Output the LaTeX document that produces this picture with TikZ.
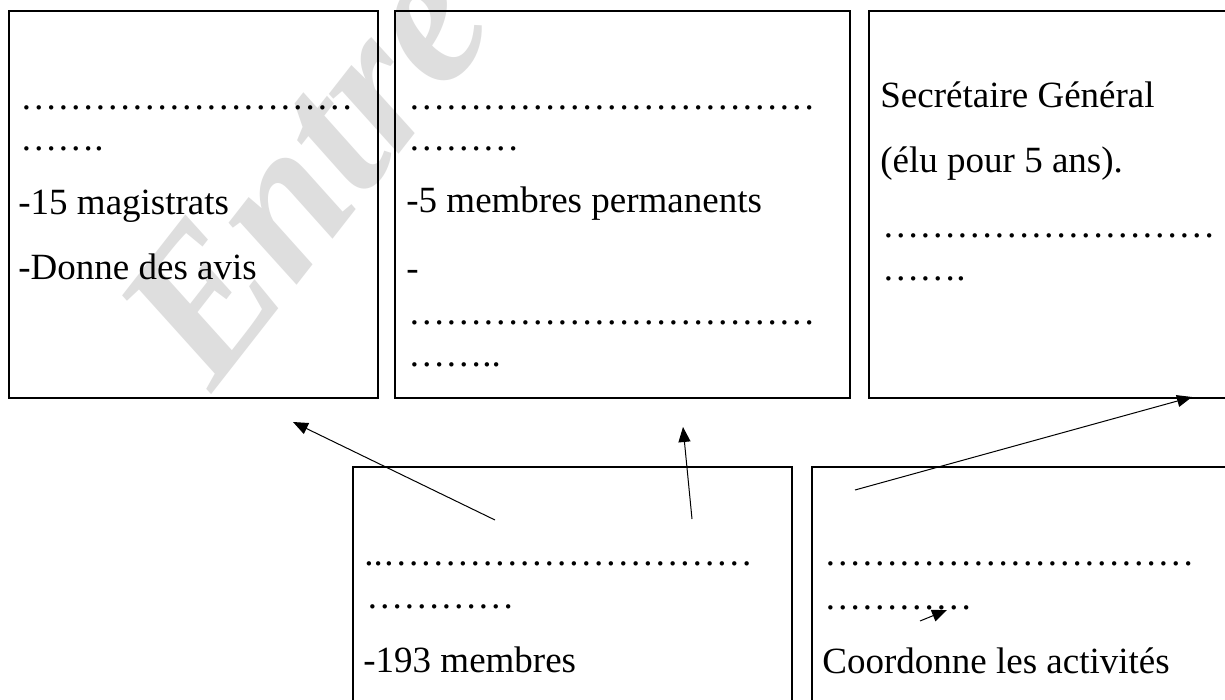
\documentclass[tikz,border=0pt]{standalone}
\usepackage{fontspec}
\setmainfont{Liberation Serif}
\usetikzlibrary{arrows.meta}

\newcommand{\pt}{…}

\tikzset{
  boite/.style={draw, line width=1pt, rectangle, anchor=north west, inner sep=0pt, outer sep=0pt},
  ligne/.style={anchor=base west, inner sep=0pt, font=\fontsize{18.5}{21}\selectfont},
  fleche/.style={-{Triangle[length=7.5pt,width=6pt]}, line width=0.5pt},
}

\begin{document}
\begin{tikzpicture}[x=0.5pt,y=-0.5pt]
    \clip (0,0) rectangle (1225,700);
    \fill[white] (0,0) rectangle (1225,700);
    \node[rotate=52, text=black!13, font=\fontsize{100}{100}\selectfont\bfseries\itshape] (filigrane) at (305,170) {Entre};

    % cases du haut
    \node[boite, minimum width=184.5pt, minimum height=193.5pt] (cij) at (9,11) {};
    \node[boite, minimum width=227.5pt, minimum height=193.5pt] (securite) at (395,11) {};
    \node[boite, minimum width=185.5pt, minimum height=193.5pt] (secretariat) at (869,11) {};
    % cases du bas
    \node[boite, minimum width=219.5pt, minimum height=126.5pt] (assemblee) at (353,467) {};
    \node[boite, minimum width=214pt, minimum height=126.5pt] (ecosoc) at (812,467) {};

    \node[ligne] (cijA) at (20,110) {\pt\pt\pt\pt\pt\pt\pt\pt\pt};
    \node[ligne] (cijB) at (20,151) {\pt\pt.};
    \node[ligne] (cijC) at (18,215) {-15 magistrats};
    \node[ligne] (cijD) at (18,279) {-Donne des avis};

    \node[ligne] (secA) at (408,110) {\pt\pt\pt\pt\pt\pt\pt\pt\pt\pt\pt};
    \node[ligne] (secB) at (408,151) {\pt\pt\pt};
    \node[ligne] (secC) at (406,213) {-5 membres permanents};
    \node[ligne] (secD) at (406,280) {-};
    \node[ligne] (secE) at (408,324) {\pt\pt\pt\pt\pt\pt\pt\pt\pt\pt\pt};
    \node[ligne] (secF) at (408,366) {\pt\pt..};

    \node[ligne] (sgA) at (880,108) {Secrétaire Général};
    \node[ligne] (sgB) at (880,173) {(élu pour 5 ans).};
    \node[ligne] (sgC) at (882,237) {\pt\pt\pt\pt\pt\pt\pt\pt\pt};
    \node[ligne] (sgD) at (882,280) {\pt\pt.};

    \node[ligne] (agA) at (364,565) {..\pt\pt\pt\pt\pt\pt\pt\pt\pt\pt};
    \node[ligne] (agB) at (366,608) {\pt\pt\pt\pt};
    \node[ligne] (agC) at (363,672) {-193 membres};

    \node[ligne] (ecoA) at (824,565) {\pt\pt\pt\pt\pt\pt\pt\pt\pt\pt};
    \node[ligne] (ecoB) at (824,609) {\pt\pt\pt\pt};
    \node[ligne] (ecoC) at (822,673) {Coordonne les activités};

    \coordinate (d1) at (495,520);
    \coordinate (f1) at (293,422);
    \coordinate (d2) at (692,519);
    \coordinate (f2) at (683,427);
    \coordinate (d3) at (855,490);
    \coordinate (f3) at (1192,397);
    \coordinate (d4) at (920,621);
    \coordinate (f4) at (947,610);

    \draw[fleche] (d1) -- (f1);
    \draw[fleche] (d2) -- (f2);
    \draw[fleche] (d3) -- (f3);
    \draw[fleche] (d4) -- (f4);
\end{tikzpicture}
\end{document}
